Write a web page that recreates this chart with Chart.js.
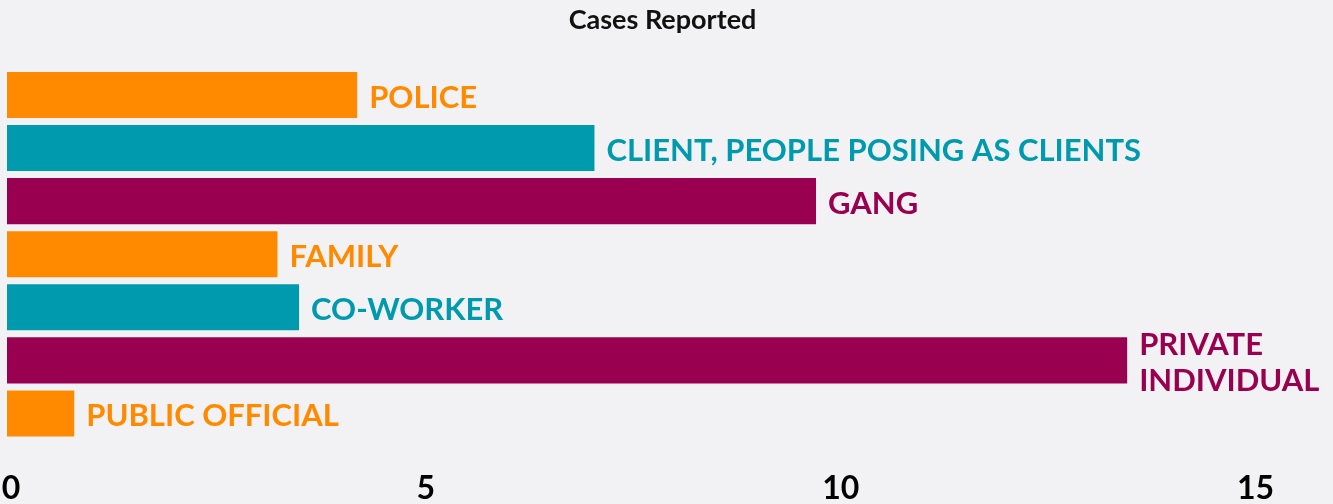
<!DOCTYPE html>
<html>
<head>
<meta charset="utf-8">
<script src="https://cdn.jsdelivr.net/npm/chart.js@4"></script>
<style>
  html, body { margin: 0; padding: 0; background: #f2f2f4; }
  #wrap { width: 1333px; height: 504px; position: relative; }
</style>
</head>
<body>
<div id="wrap"><canvas id="myChart"></canvas></div>
<script>
// data
var categories = ["POLICE", "CLIENT, PEOPLE POSING AS CLIENTS", "GANG", "FAMILY", "CO-WORKER", ["PRIVATE", "INDIVIDUAL"], "PUBLIC OFFICIAL"];
var cases = [4.22, 7.08, 9.75, 3.26, 3.52, 13.5, 0.81];
var tickValues = [0, 5, 10, 15];

var barColors = ["#ff8a00", "#009aae", "#99004f", "#ff8a00", "#009aae", "#99004f", "#ff8a00"];

// writes the category name just past the end of each bar
var endLabels = {
  id: "endLabels",
  afterDatasetsDraw: function(chart) {
    var ctx = chart.ctx;
    var meta = chart.getDatasetMeta(0);
    ctx.save();
    ctx.font = "bold 31px Lato";
    ctx.textBaseline = "middle";
    ctx.textAlign = "left";
    meta.data.forEach(function(bar, i) {
      var lines = [].concat(categories[i]);
      var lh = 36;
      var y0 = bar.y - (lines.length - 1) * lh / 2;
      ctx.fillStyle = barColors[i];
      lines.forEach(function(txt, j) {
        ctx.fillText(txt, bar.x + 12, y0 + j * lh + 3);
      });
    });
    ctx.restore();
  }
};

new Chart("myChart", {
  type: "bar",
  data: {
    labels: categories,
    datasets: [{
      data: cases,
      backgroundColor: barColors,
      borderWidth: 0,
      categoryPercentage: 1,
      barPercentage: 0.868
    }]
  },
  options: {
    indexAxis: "y",
    responsive: true,
    maintainAspectRatio: false,
    animation: false,
    layout: { padding: { left: 7, right: 15, top: 0, bottom: 0 } },
    plugins: {
      legend: { display: false },
      tooltip: { enabled: false },
      title: {
        display: true,
        text: "Cases Reported",
        color: "#111",
        font: { family: "Lato", size: 27, weight: "bold" },
        padding: { top: 4, bottom: 32 }
      }
    },
    scales: {
      y: { display: false },
      x: {
        min: 0,
        max: 15.8,
        afterFit: function(s) { s.paddingLeft = 0; s.paddingRight = 0; s.height = 64; },
        afterBuildTicks: function(s) {
          s.ticks = tickValues.map(function(v) { return { value: v }; });
        },
        grid: { display: false, drawTicks: false },
        border: { display: false },
        ticks: {
          color: "#000",
          padding: 29,
          labelOffset: 4,
          maxRotation: 0,
          font: { family: "Lato", size: 32, weight: "bold" }
        }
      }
    }
  },
  plugins: [endLabels]
});
</script>
</body>
</html>
